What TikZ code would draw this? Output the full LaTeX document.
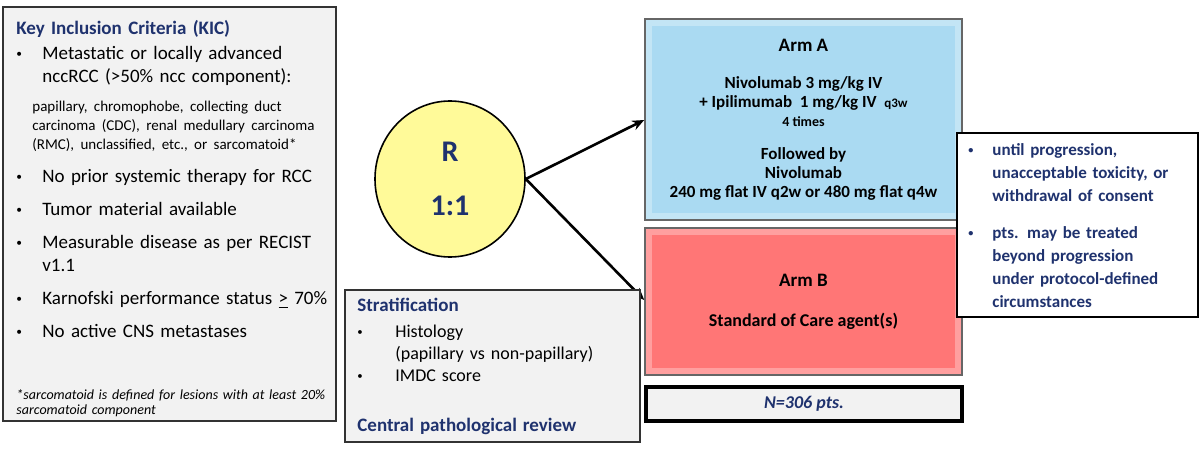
\documentclass[tikz,border=0pt]{standalone}
\usepackage{fontspec}
\setmainfont{Carlito}
\usetikzlibrary{arrows.meta,shapes.geometric}
\definecolor{navy}{RGB}{31,50,110}
\definecolor{armA}{RGB}{170,218,242}
\definecolor{armB}{RGB}{255,118,118}
\definecolor{panel}{RGB}{242,242,242}
\newcommand{\bul}[1]{\makebox[#1][l]{\raisebox{1pt}{\scalebox{0.6}{\textbullet}}}}
\tikzset{
  panelbox/.style={draw=black!80,thick,fill=panel},
  armbox/.style={draw=black!60,thick,minimum width=158.5pt,align=center,inner sep=0pt},
  arrowline/.style={-{Stealth[length=6pt,width=5pt]},line width=1.3pt}
}
\begin{document}
\begin{tikzpicture}[x=0.5pt,y=-0.5pt]
    \useasboundingbox (0,0) rectangle (1200,449);
    % inclusion criteria
    \draw[panelbox] (3,7) rectangle (336,421);
    \node[anchor=north west,inner sep=0pt,text width=160pt,font=\fontsize{9.5}{11.5}\selectfont] (kic) at (16,20) {%
    {\bfseries\color{navy}Key Inclusion Criteria (KIC)}\\[1pt]
    \bul{13pt}Metastatic or locally advanced\\\hspace*{13pt}nccRCC (>50\% ncc component):\par
    \vspace{5pt}{\fontsize{7.5}{9.5}\selectfont\raggedright\hyphenpenalty=10000\leftskip=8pt papillary, chromophobe, collecting duct carcinoma (CDC), renal medullary carcinoma (RMC), unclassified, etc., or sarcomatoid*\par}
    \vspace{5pt}\bul{13pt}No prior systemic therapy for RCC\par
    \vspace{5pt}\bul{13pt}Tumor material available\par
    \vspace{5pt}\bul{13pt}Measurable disease as per RECIST\\\hspace*{13pt}v1.1\par
    \vspace{5pt}\bul{13pt}Karnofski performance status \underline{>} 70\%\par
    \vspace{5pt}\bul{13pt}No active CNS metastases\par};
    \node[anchor=north west,inner sep=0pt,text width=160pt,font=\fontsize{7}{7.5}\selectfont\itshape] (foot) at (16,389) {*sarcomatoid is defined for lesions with at least 20\% sarcomatoid component};
    % randomisation
    \node[draw,thick,fill=yellow!40,ellipse,minimum width=75pt,minimum height=78pt,inner sep=0pt,font=\fontsize{15}{27}\selectfont\bfseries,text=navy,align=center] (rnd) at (450,179) {R\\1:1};
    % arms
    \node[armbox,fill=armA,minimum height=100.5pt,font=\fontsize{8.5}{9.5}\selectfont\bfseries] (armA) at (803.5,119.5) {%
      {\fontsize{9.5}{11}\selectfont Arm A}\\[9pt]
      Nivolumab 3 mg/kg IV\\
      + Ipilimumab\ \ 1 mg/kg IV\ \ {\fontsize{6.5}{8}\selectfont q3w}\\
      {\fontsize{7}{9}\selectfont 4 times}\\[7pt]
      Followed by\\ Nivolumab\\ 240 mg flat IV q2w or 480 mg flat q4w};
    \node[armbox,fill=armB,minimum height=73.5pt,font=\fontsize{9}{11}\selectfont\bfseries] (armB) at (803.5,301.5) {%
      {\fontsize{9.5}{11}\selectfont Arm B}\\[9pt] Standard of Care agent(s)};
    \draw[white,opacity=0.3,line width=3pt] ([shift={(5,-5)}]armA.south west) rectangle ([shift={(-5,5)}]armA.north east);
    \draw[white,opacity=0.3,line width=3pt] ([shift={(5,-5)}]armB.south west) rectangle ([shift={(-5,5)}]armB.north east);
    \node[draw,line width=2pt,fill=panel,minimum width=158pt,minimum height=17pt,font=\fontsize{9}{11}\selectfont\bfseries\itshape,text=navy] (npts) at (804,404) {N=306 pts.};
    \draw[arrowline] (rnd.east) -- (armA.west |- 0,120);
    \draw[arrowline] (rnd.east) -- (armB.west |- 0,300);
    % stratification
    \draw[panelbox] (345,290) rectangle (640,442);
    \node[anchor=north west,inner sep=0pt,text width=140pt,font=\fontsize{9}{11}\selectfont] (strat) at (357,298) {%
    {\fontsize{9.5}{11}\selectfont\bfseries\color{navy}Stratification}\\[2pt]
    \bul{19pt}Histology\\
    \hspace*{19pt}(papillary vs non-papillary)\\
    \bul{19pt}IMDC score\\[14pt]
    {\fontsize{9.5}{11}\selectfont\bfseries\color{navy}Central pathological review}};
    % treatment duration
    \draw[thick,fill=white] (957,133) rectangle (1198,317);
    \node[anchor=north west,inner sep=0pt,text width=115pt,font=\fontsize{8.5}{11.5}\selectfont\bfseries,text=navy] (until) at (968,143) {%
    \bul{12pt}until progression,\\\hspace*{12pt}unacceptable toxicity, or\\\hspace*{12pt}withdrawal of consent\par
    \vspace{7pt}\bul{12pt}pts. may be treated\\\hspace*{12pt}beyond progression\\\hspace*{12pt}under protocol-defined\\\hspace*{12pt}circumstances\par};
\end{tikzpicture}
\end{document}
